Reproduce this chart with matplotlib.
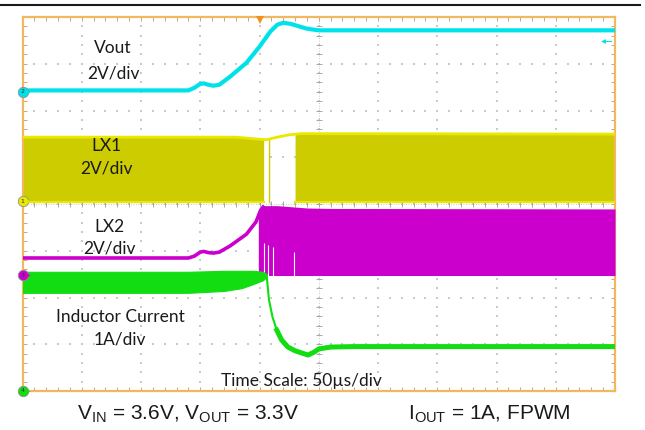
import matplotlib
matplotlib.use("Agg")
import matplotlib.pyplot as plt
from matplotlib.lines import Line2D
import numpy as np

# scope settings: 50 us/div horizontally, 8 divisions vertically
T_DIV = 50.0
N_XDIV, N_YDIV = 10, 8

# channel ground offsets (divisions from bottom) and scales (units/div)
CH2_OFF, CH2_SCALE = 6.40, 2.0   # Vout
CH1_OFF, CH1_SCALE = 4.06, 2.0   # LX1
CH3_OFF, CH3_SCALE = 2.48, 2.0   # LX2
CH4_OFF, CH4_SCALE = 0.0, 1.0    # inductor current

# Vout (V)
vout_t = [0, 140, 145, 150, 153, 157, 161, 166, 175, 189, 200, 209, 215, 220, 226, 232, 240, 250, 500]
vout_v = [0.06, 0.06, 0.17, 0.34, 0.36, 0.30, 0.26, 0.30, 0.64, 1.24, 1.93, 2.57, 2.87, 2.95, 2.91, 2.82, 2.70, 2.63, 2.63]

# LX1 switching envelope (V)
lx1_t = [0, 180, 200, 206, 215, 225, 235, 500]
lx1_top = [2.74, 2.74, 2.65, 2.63, 2.74, 2.84, 2.89, 2.87]
lx1_low = -0.04
lx1_on = [(0, 203.5), (230, 500)]   # time spans where LX1 switches
lx1_spike_t = 208

# LX2 trace before switching starts, then switching envelope (V)
lx2_t = [0, 140, 145, 150, 153, 157, 161, 166, 175, 189, 197, 201, 204]
lx2_v = [0.73, 0.73, 0.81, 0.98, 1.01, 0.96, 0.94, 0.98, 1.24, 1.75, 2.27, 2.78, 2.97]
lx2_band_t = [199, 201, 204, 215, 240, 260, 500]
lx2_band_top = [2.55, 2.78, 2.97, 2.97, 2.87, 2.85, 2.83]
lx2_low = -0.02
lx2_gap_t = [204.1, 207.5, 211.8, 228.7]
lx2_gap_top = [1.37, 1.28, 1.20, 0.98]

# inductor current (A): ripple band, then single trace
il_band_t = [0, 140, 170, 185, 195, 203, 206]
il_band_hi = [2.55, 2.55, 2.57, 2.57, 2.57, 2.55, 2.50]
il_band_lo = [2.10, 2.10, 2.14, 2.20, 2.29, 2.37, 2.44]
il_t = [206, 208, 211, 214.6, 218.7, 224, 230, 236, 241, 246, 250, 260, 280, 500]
il_a = [2.48, 1.95, 1.58, 1.30, 1.09, 0.94, 0.86, 0.81, 0.77, 0.83, 0.90, 0.94, 0.95, 0.95]

CYAN = "#00E2EA"
YEL_FILL = "#CCCC00"
YEL_EDGE = "#E8E800"
MAG = "#CC00CC"
GRN = "#11DD11"
FRAME = "#F2B860"
TXT = "#1a1a1a"


def scr(values, off, scale):
    return off + np.asarray(values, dtype=float) / scale


fig = plt.figure(figsize=(6.45, 4.3), dpi=100)
ax = fig.add_axes([22.5 / 645, 39 / 430, 592.5 / 645, 374 / 430])
tmax = T_DIV * N_XDIV
ax.set_xlim(0, tmax)
ax.set_ylim(0, N_YDIV)

# graticule: dotted grid with minor dots, centre cross with tick marks
minor_y = np.arange(0, N_YDIV + 0.01, 0.2)
minor_x = np.arange(0, tmax + 0.1, T_DIV / 5)
for k in range(1, N_XDIV):
    ax.scatter(np.full(minor_y.size, k * T_DIV), minor_y, s=1.0, marker="s",
               color="#CACACA", lw=0, zorder=1)
for k in range(1, N_YDIV):
    ax.scatter(minor_x, np.full(minor_x.size, k), s=1.0, marker="s",
               color="#CACACA", lw=0, zorder=1)
ax.axvline(tmax / 2, color="#B8B8B8", lw=0.6, ls=(0, (1, 2)), zorder=1)
ax.axhline(N_YDIV / 2, color="#B8B8B8", lw=0.6, ls=(0, (1, 2)), zorder=1)
ax.plot(np.full(minor_y.size, tmax / 2), minor_y, ls="none", marker="_",
        ms=4, mew=0.7, color="#A8A8A8", zorder=1)
ax.plot(minor_x, np.full(minor_x.size, N_YDIV / 2), ls="none", marker="|",
        ms=4, mew=0.7, color="#A8A8A8", zorder=1)

# LX1 switching band
lx1_top_s = scr(lx1_top, CH1_OFF, CH1_SCALE)
tt = np.linspace(0, tmax, 2001)
top_i = np.interp(tt, lx1_t, lx1_top_s)
low_s = CH1_OFF + lx1_low / CH1_SCALE
for a, b in lx1_on:
    m = (tt >= a) & (tt <= b)
    ax.fill_between(tt[m], low_s, top_i[m], color=YEL_FILL, lw=0, zorder=2)
    ax.plot([a, b], [low_s, low_s], color=YEL_EDGE, lw=1.6, zorder=3)
ax.plot(lx1_t, lx1_top_s, color=YEL_EDGE, lw=2.0, zorder=3)
ax.plot([lx1_spike_t] * 2, [low_s, np.interp(lx1_spike_t, lx1_t, lx1_top_s)],
        color=YEL_FILL, lw=1.0, zorder=2)

# LX2 trace and switching band
ax.plot(lx2_t, scr(lx2_v, CH3_OFF, CH3_SCALE), color=MAG, lw=2.6,
        solid_capstyle="butt", zorder=4)
ax.fill_between(lx2_band_t, CH3_OFF + lx2_low / CH3_SCALE,
                scr(lx2_band_top, CH3_OFF, CH3_SCALE), color=MAG, lw=0, zorder=4)
ax.vlines(lx2_gap_t, CH3_OFF + lx2_low / CH3_SCALE,
          scr(lx2_gap_top, CH3_OFF, CH3_SCALE), color="white", lw=0.8, zorder=4)

# inductor current
ax.fill_between(il_band_t, scr(il_band_lo, CH4_OFF, CH4_SCALE),
                scr(il_band_hi, CH4_OFF, CH4_SCALE), color=GRN, lw=0.8,
                edgecolor=GRN, zorder=5)
ax.plot(il_t[:4], scr(il_a[:4], CH4_OFF, CH4_SCALE), color=GRN, lw=1.5, zorder=5)
ax.plot(il_t[3:], scr(il_a[3:], CH4_OFF, CH4_SCALE), color=GRN, lw=3.6,
        solid_joinstyle="round", zorder=5)

# Vout
ax.plot(vout_t, scr(vout_v, CH2_OFF, CH2_SCALE), color=CYAN, lw=3.0,
        solid_joinstyle="round", zorder=6)

# frame and edge ticks
for sp in ax.spines.values():
    sp.set_color(FRAME)
    sp.set_linewidth(1.6)
ax.set_xticks(np.arange(0, tmax + 1, T_DIV))
ax.set_yticks(np.arange(0, N_YDIV + 0.1, 1))
ax.set_xticks(minor_x, minor=True)
ax.set_yticks(minor_y, minor=True)
ax.tick_params(which="both", direction="in", length=3, width=0.7,
               color="#C8A878", top=True, right=True,
               labelbottom=False, labelleft=False)

# channel ground markers
for num, off, col in [("2", CH2_OFF, CYAN), ("1", CH1_OFF, "#E8E800"),
                      ("3", CH3_OFF, MAG), ("4", CH4_OFF, GRN)]:
    ax.plot([0], [off], "o", ms=7.5, mfc=col, mec="#909090", mew=0.6,
            clip_on=False, zorder=10)
    ax.text(0, off, num, fontsize=4.5, ha="center", va="center",
            color="#333333", zorder=11, clip_on=False)
    ax.plot([5], [off], ">", ms=3, color=col, mew=0, clip_on=False, zorder=10)

# trigger position and level markers
ax.plot([200], [N_YDIV - 0.06], "v", ms=6, color="#F09020", mew=0,
        clip_on=False, zorder=10)
ax.plot([490], [7.49], "<", ms=3.5, color=CYAN, mew=0, zorder=10)
ax.plot([490, 497], [7.49, 7.49], color=CYAN, lw=0.8, zorder=10)

# channel labels
lab = dict(fontsize=12.5, family=["Lato", "DejaVu Sans"], color=TXT,
           ha="center", va="center", zorder=12)
ax.text(76.4, 7.34, "Vout", **lab)
ax.text(76.4, 6.80, "2V/div", **lab)
ax.text(70.5, 5.24, "LX1", **lab)
ax.text(70.5, 4.75, "2V/div", **lab)
ax.text(73.0, 3.51, "LX2", **lab)
ax.text(73.0, 3.04, "2V/div", **lab)
ax.text(82.3, 1.58, "Inductor Current", **lab)
ax.text(82.3, 1.11, "1A/div", **lab)
ax.text(235.8, 0.22, "Time Scale: 50µs/div", **lab)

# test conditions below the screen
cond = dict(fontsize=15, family=["Liberation Sans", "DejaVu Sans"],
            color=TXT, ha="center", va="center")
fig.text(188 / 645, 1 - 414 / 430,
         r"V$_\mathregular{IN}$ = 3.6V, V$_\mathregular{OUT}$ = 3.3V", **cond)
fig.text(489 / 645, 1 - 414 / 430, r"I$_\mathregular{OUT}$ = 1A, FPWM", **cond)

# rule across the top
fig.add_artist(Line2D([0, 640 / 645], [1 - 5 / 430] * 2, color="#1a1a1a", lw=1.5))

fig.savefig("out.png", dpi=100)
